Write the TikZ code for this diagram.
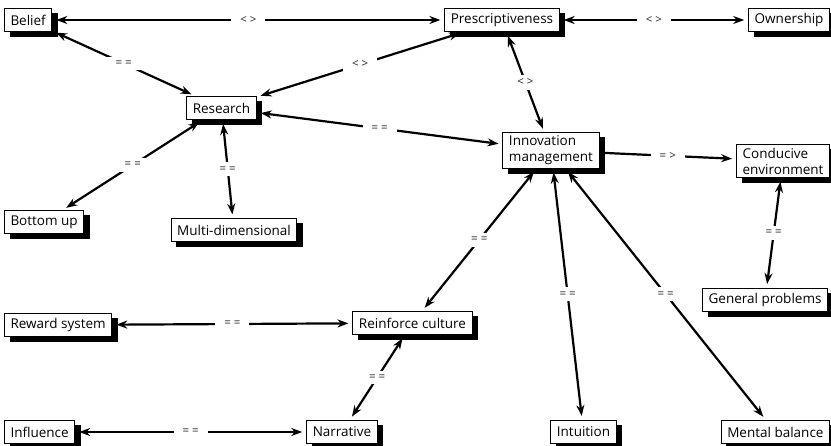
\documentclass[tikz,border=0pt]{standalone}
\usepackage{fontspec}
\setmainfont{Open Sans}
\usetikzlibrary{arrows.meta,backgrounds}
\begin{document}
\begin{tikzpicture}[x=1pt,y=-1pt, every node/.style={font=\fontsize{13.5}{16}\selectfont}]
  \tikzstyle{concept}=[draw,fill=white,line width=1pt,inner xsep=6pt,inner ysep=3pt,minimum height=23pt,align=left]
  \tikzstyle{link}=[line width=2.2pt,{Stealth[length=11pt,width=8pt]}-{Stealth[length=11pt,width=8pt]},shorten <=4pt,shorten >=4pt]
  \tikzstyle{rel}=[midway,fill=white,inner xsep=9pt,inner ysep=4pt,text=black!85,font=\fontsize{11.5}{13}\selectfont]
  \useasboundingbox (0,0) rectangle (831,446);
  \node[concept,anchor=west] (belief) at (4,20) {Belief};
  \node[concept] (presc) at (502,20) {Prescriptiveness};
  \node[concept,anchor=east] (owner) at (830,20) {Ownership};
  \node[concept] (research) at (221.5,108) {Research};
  \node[concept] (innov) at (551,150.5) {Innovation\\management};
  \node[concept,anchor=east] (conducive) at (830,161) {Conducive\\environment};
  \node[concept,anchor=west] (bottom) at (4,222) {Bottom up};
  \node[concept] (multi) at (234,230.5) {Multi-dimensional};
  \node[concept,anchor=east] (general) at (828,300) {General problems};
  \node[concept,anchor=west] (reward) at (4,325) {Reward system};
  \node[concept] (reinforce) at (412.5,323) {Reinforce culture};
  \node[concept,anchor=west] (influence) at (4,432) {Influence};
  \node[concept] (narrative) at (342,432) {Narrative};
  \node[concept] (intuition) at (583.5,432) {Intuition};
  \node[concept,anchor=east] (mental) at (830,432) {Mental balance};
  % shadows behind the boxes
  \begin{scope}[on background layer]
    \foreach \n in {belief,presc,owner,research,innov,conducive,bottom,multi,general,reward,reinforce,influence,narrative,intuition,mental}
      \fill[black] ([xshift=5.5pt,yshift=-5pt]\n.north west) rectangle ([xshift=5.5pt,yshift=-5pt]\n.south east);
  \end{scope}
  % top row
  \draw[link] (belief) -- (presc) node[rel] {< >};
  \draw[link] (presc) -- (owner) node[rel] {< >};
  \draw[link] (belief) -- (research) node[rel] {= =};
  \draw[link] (presc) -- (research) node[rel] {< >};
  \draw[link] (presc) -- (innov) node[rel] {< >};
  % research
  \draw[link] (research) -- (innov) node[rel] {= =};
  \draw[link] (research) -- (bottom) node[rel] {= =};
  \draw[link] (research) -- (multi) node[rel] {= =};
  % innovation management
  \draw[link,{Circle[length=6pt]}-{Stealth[length=11pt,width=8pt]},shorten <=0pt] (innov) -- (conducive) node[rel] {= >};
  \draw[link] (conducive) -- (general) node[rel] {= =};
  \draw[link] (innov) -- (reinforce) node[rel] {= =};
  \draw[link] (innov) -- (intuition) node[rel] {= =};
  \draw[link] (innov) -- (mental) node[rel] {= =};
  % culture
  \draw[link] (reward) -- (reinforce) node[rel] {= =};
  \draw[link] (reinforce) -- (narrative) node[rel] {= =};
  \draw[link] (influence) -- (narrative) node[rel] {= =};
\end{tikzpicture}
\end{document}
